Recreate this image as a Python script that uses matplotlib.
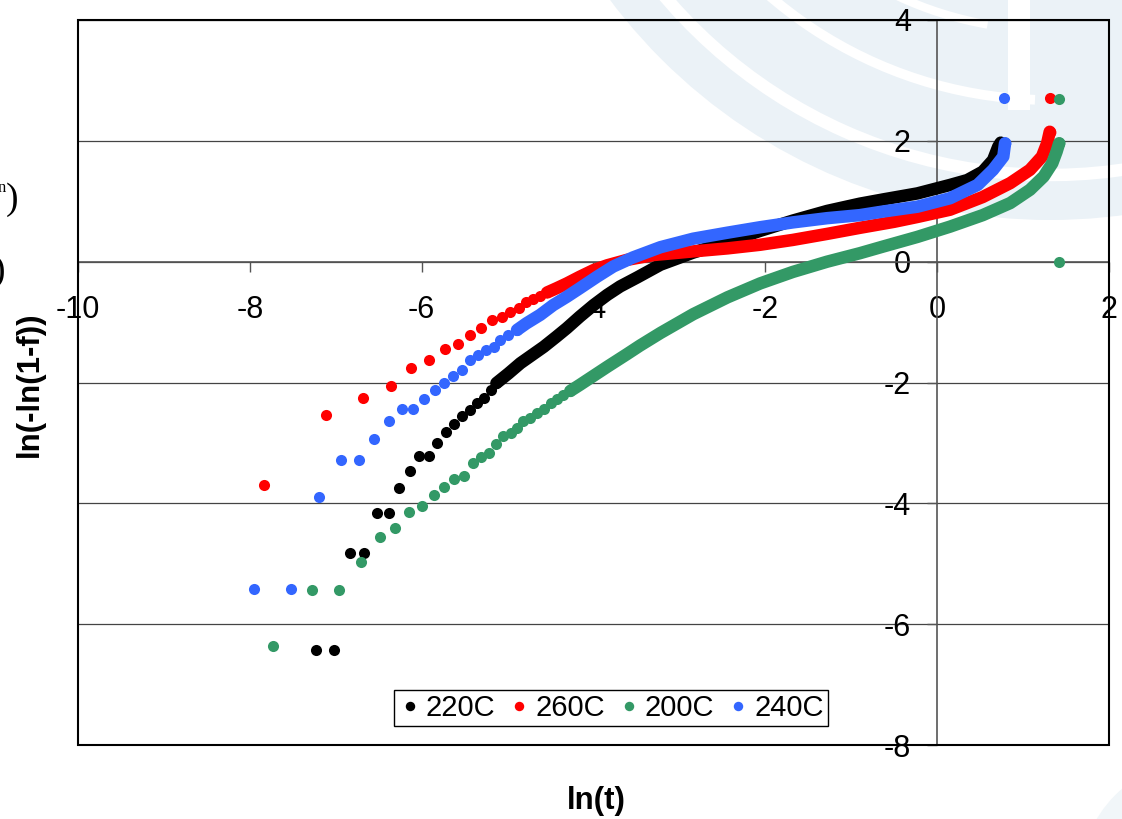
import matplotlib
matplotlib.use('Agg')
import matplotlib.pyplot as plt
from matplotlib.patches import Rectangle, Circle, Arc

plt.rcParams.update({'font.family': 'Liberation Sans', 'axes.unicode_minus': False})

# Weibull plot: ln(t) vs ln(-ln(1-f)) for four temperatures
# sparse early-failure points, then the dense part of each curve
t220_pts_x = [-7.23, -7.02, -6.83, -6.67, -6.52, -6.38, -6.26, -6.14, -6.03, -5.92,
              -5.82, -5.72, -5.62, -5.53, -5.44, -5.36, -5.27, -5.19, -5.13]
t220_pts_y = [-6.43, -6.43, -4.82, -4.82, -4.16, -4.16, -3.75, -3.47, -3.21, -3.21,
              -3.00, -2.82, -2.69, -2.56, -2.45, -2.34, -2.26, -2.12, -2.01]
t220_trace_x = [-5.13, -4.99, -4.85, -4.74, -4.58, -4.43, -4.31, -4.16, -4.00, -3.84,
                -3.69, -3.49, -3.22, -2.84, -2.44, -2.06, -1.68, -1.28, -0.90, -0.63,
                -0.23, 0.15, 0.35, 0.53, 0.65, 0.71, 0.74]
t220_trace_y = [-2.01, -1.85, -1.68, -1.57, -1.41, -1.24, -1.10, -0.91, -0.72, -0.55,
                -0.41, -0.26, -0.05, 0.15, 0.33, 0.51, 0.68, 0.84, 0.96, 1.03,
                1.13, 1.27, 1.35, 1.49, 1.68, 1.90, 1.97]

t260_pts_x = [-7.84, -7.11, -6.68, -6.36, -6.12, -5.91, -5.73, -5.58, -5.44, -5.31,
              -5.18, -5.07, -4.97, -4.87, -4.78, -4.70, -4.62, -4.54, 1.31]
t260_pts_y = [-3.70, -2.53, -2.26, -2.06, -1.76, -1.63, -1.45, -1.36, -1.21, -1.09,
              -0.97, -0.92, -0.83, -0.77, -0.67, -0.62, -0.57, -0.51, 2.71]
t260_trace_x = [-4.54, -4.43, -4.31, -4.16, -4.00, -3.84, -3.61, -3.30, -2.84, -2.44,
                -2.06, -1.68, -1.28, -0.90, -0.50, -0.23, 0.15, 0.53, 0.85, 1.08,
                1.22, 1.28, 1.31]
t260_trace_y = [-0.51, -0.44, -0.36, -0.25, -0.14, -0.06, 0.03, 0.11, 0.17, 0.22,
                0.28, 0.36, 0.46, 0.56, 0.66, 0.74, 0.86, 1.07, 1.30, 1.52,
                1.74, 1.96, 2.15]

t200_pts_x = [-7.73, -7.28, -6.96, -6.71, -6.49, -6.31, -6.15, -6.00, -5.86, -5.74,
              -5.62, -5.51, -5.40, -5.31, -5.22, -5.13, -5.05, -4.96, -4.89, -4.82,
              -4.74, -4.66, -4.58, -4.50, -4.43, -4.35, -4.27, 1.42, 1.42]
t200_pts_y = [-6.36, -5.43, -5.43, -4.97, -4.55, -4.40, -4.15, -4.04, -3.86, -3.73,
              -3.60, -3.54, -3.34, -3.24, -3.17, -3.01, -2.89, -2.84, -2.75, -2.64,
              -2.59, -2.51, -2.44, -2.34, -2.28, -2.21, -2.14, 2.69, 0.00]
t200_trace_x = [-4.27, -4.16, -4.00, -3.84, -3.61, -3.46, -3.22, -2.84, -2.44, -2.06,
                -1.68, -1.28, -0.90, -0.63, -0.23, 0.15, 0.53, 0.85, 1.08, 1.24,
                1.34, 1.39, 1.42]
t200_trace_y = [-2.14, -2.04, -1.89, -1.74, -1.53, -1.39, -1.18, -0.87, -0.59, -0.36,
                -0.17, 0.00, 0.14, 0.25, 0.41, 0.58, 0.77, 0.97, 1.19, 1.41,
                1.63, 1.82, 1.96]

t240_pts_x = [-7.95, -7.52, -7.20, -6.94, -6.73, -6.55, -6.38, -6.23, -6.10, -5.97,
              -5.85, -5.74, -5.63, -5.53, -5.44, -5.35, -5.25, -5.16, -5.09, -4.99,
              -4.89, 0.78]
t240_pts_y = [-5.41, -5.41, -3.90, -3.29, -3.29, -2.93, -2.64, -2.44, -2.44, -2.28,
              -2.13, -2.01, -1.90, -1.79, -1.62, -1.54, -1.46, -1.41, -1.30, -1.21,
              -1.13, 2.71]
t240_trace_x = [-4.89, -4.78, -4.62, -4.47, -4.31, -4.16, -3.96, -3.77, -3.54, -3.22,
                -2.84, -2.44, -2.06, -1.68, -1.28, -0.90, -0.63, -0.23, 0.15, 0.47,
                0.65, 0.77, 0.79]
t240_trace_y = [-1.13, -1.02, -0.88, -0.72, -0.58, -0.44, -0.25, -0.08, 0.07, 0.24,
                0.38, 0.48, 0.57, 0.65, 0.72, 0.77, 0.83, 0.91, 1.05, 1.27,
                1.52, 1.74, 1.96]

series = [
    ('220C', '#000000', t220_pts_x, t220_pts_y, t220_trace_x, t220_trace_y),
    ('260C', '#FF0000', t260_pts_x, t260_pts_y, t260_trace_x, t260_trace_y),
    ('200C', '#339966', t200_pts_x, t200_pts_y, t200_trace_x, t200_trace_y),
    ('240C', '#3366FF', t240_pts_x, t240_pts_y, t240_trace_x, t240_trace_y),
]

fig = plt.figure(figsize=(11.22, 8.19), dpi=100)
fig.patch.set_facecolor('white')

# faint slide watermark behind the chart (pixel coordinates)
bg = fig.add_axes([0, 0, 1, 1], zorder=0)
bg.set_xlim(0, 1122)
bg.set_ylim(819, 0)
bg.axis('off')
wm = '#ebf2f7'
bg.add_patch(Circle((1050, -330), 550, color=wm, lw=0))
bg.add_patch(Arc((1050, -330), 1010, 1010, theta1=78, theta2=150, color='white', lw=9))
bg.add_patch(Arc((1050, -330), 860, 860, theta1=92, theta2=155, color='white', lw=7))
bg.add_patch(Arc((1050, -330), 720, 720, theta1=100, theta2=160, color='white', lw=6))
bg.add_patch(Rectangle((1008, 0), 22, 110, color='white', lw=0))
bg.add_patch(Circle((1200, 880), 120, color='#f1f6f9', lw=0))

# cut-off slide text at the left edge
fig.text(18 / 1122, 1 - 200 / 819, ')', family='Liberation Serif', fontsize=27,
         ha='right', va='center')
fig.text(6 / 1122, 1 - 188 / 819, 'n', family='Liberation Serif', fontsize=12,
         ha='right', va='center')
fig.text(5 / 1122, 1 - 272 / 819, ')', family='Liberation Serif', fontsize=27,
         ha='right', va='center')

ax = fig.add_axes([0.06952, 0.09035, 0.91889, 0.88523], zorder=1)
ax.set_facecolor('none')

for name, color, px, py, tx, ty in series:
    ax.plot(tx, ty, '-', color=color, lw=9, solid_capstyle='round',
            solid_joinstyle='round', zorder=3)
    ax.plot(px, py, 'o', color=color, ms=8, mew=0, label=name, zorder=3, clip_on=False)
    ax.plot(tx[-1:], ty[-1:], 'o', color=color, ms=8.5, mew=0, zorder=3)

ax.set_xlim(-10, 2)
ax.set_ylim(-8, 4)
ax.set_xticks(range(-10, 3, 2))
ax.set_yticks(range(-8, 5, 2))

# axes cross at the origin, outer frame drawn separately
ax.spines['left'].set_position(('data', 0))
ax.spines['bottom'].set_position(('data', 0))
for s in ('left', 'bottom'):
    ax.spines[s].set_color('#555555')
    ax.spines[s].set_linewidth(1.2)
ax.spines['top'].set_visible(False)
ax.spines['right'].set_visible(False)
ax.add_patch(Rectangle((0, 0), 1, 1, transform=ax.transAxes, fill=False,
                       ec='black', lw=1.5, zorder=4, clip_on=False))

ax.yaxis.grid(True, color='#444444', lw=0.9)
ax.set_axisbelow(True)
ax.tick_params(axis='x', direction='out', length=7, width=1, color='#555555',
               labelsize=22, pad=17)
ax.tick_params(axis='y', direction='out', length=7, width=1, color='#555555',
               labelsize=22, pad=12)

ax.set_xlabel('ln(t)', fontsize=22.5, fontweight='bold')
ax.xaxis.set_label_coords(0.503, -0.057)
ax.set_ylabel('ln(-ln(1-f))', fontsize=22.5, fontweight='bold', va='center')
ax.yaxis.set_label_coords(-0.047, 0.497)

leg = ax.legend(loc='center', bbox_to_anchor=(0.517, 0.051), ncol=4, fontsize=21,
                numpoints=1, markerscale=0.85, handlelength=0.8, handletextpad=0.15,
                columnspacing=0.42, borderpad=0.15, borderaxespad=0, fancybox=False,
                framealpha=1, edgecolor='black')
leg.get_frame().set_linewidth(1.0)
leg.set_zorder(5)

fig.savefig('out.png', dpi=100, facecolor='white')
